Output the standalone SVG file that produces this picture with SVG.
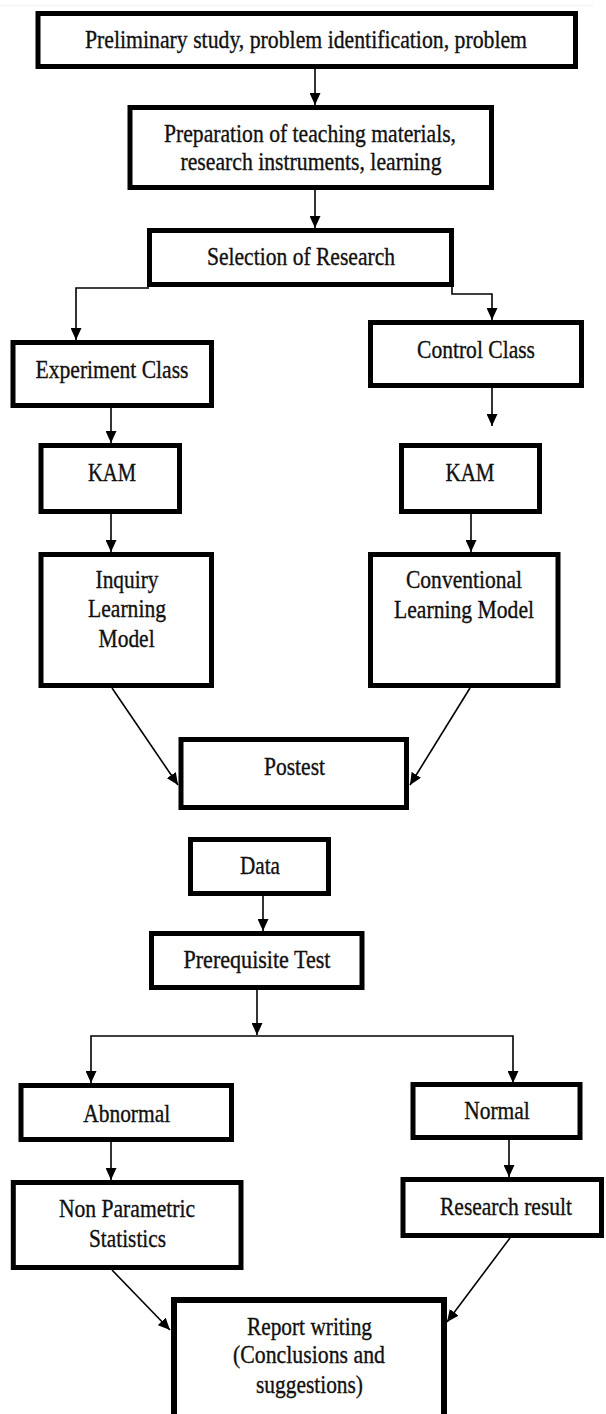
<svg xmlns="http://www.w3.org/2000/svg" width="606" height="1414" viewBox="0 0 606 1414">
<style>
.box{fill:#fff;stroke:#000;stroke-width:5}
.t{font-family:"Liberation Serif","Times New Roman",serif;font-size:25px;fill:#111;stroke:#111;stroke-width:0.35;text-anchor:middle}
.ca{fill:none;stroke:#000;stroke-width:1.6;marker-end:url(#ah)}
</style>
<defs>
<marker id="ah" viewBox="0 0 12 11" refX="12" refY="5.5" markerWidth="12" markerHeight="11" markerUnits="userSpaceOnUse" orient="auto">
<path d="M0,0 L12,5.5 L0,11 z" fill="#000"/>
</marker>
</defs>
<rect width="606" height="1414" fill="#fff"/>
<line x1="0" y1="5.5" x2="593" y2="5.5" stroke="#f3f3f3" stroke-width="1.5"/>
<g id="connectors">
<path class="ca" d="M315,69 V105"/>
<path class="ca" d="M315,190 V228"/>
<path class="ca" d="M149,288 H76 V340"/>
<path class="ca" d="M452,287 V294 H492 V320"/>
<path class="ca" d="M111,408 V443"/>
<path class="ca" d="M492,388 V426"/>
<path class="ca" d="M111,514 V552"/>
<path class="ca" d="M471,514 V552"/>
<path class="ca" d="M112,688 L178,785"/>
<path class="ca" d="M470,688 L410,785"/>
<path class="ca" d="M263,896 V931"/>
<path class="ca" d="M257,990 V1035"/>
<path class="ca" d="M257,1036 H91 V1083"/>
<path class="ca" d="M257,1036 H513 V1083"/>
<path class="ca" d="M111,1142 V1180"/>
<path class="ca" d="M509,1140 V1177"/>
<path class="ca" d="M112,1270 L170,1330"/>
<path class="ca" d="M510,1238 L447,1322"/>
</g>
<g id="n1"><rect class="box" x="38" y="13.5" width="537.5" height="53"/><text class="t" x="306" y="48" textLength="442" lengthAdjust="spacingAndGlyphs">Preliminary study, problem identification, problem</text></g>
<g id="n2"><rect class="box" x="130" y="107.5" width="361.5" height="80"/><text class="t" x="310" y="142" textLength="292" lengthAdjust="spacingAndGlyphs">Preparation of teaching materials,</text><text class="t" x="311" y="170" textLength="261" lengthAdjust="spacingAndGlyphs">research instruments, learning</text></g>
<g id="n3"><rect class="box" x="149.5" y="230.5" width="302" height="54"/><text class="t" x="301" y="265" textLength="188" lengthAdjust="spacingAndGlyphs">Selection of Research</text></g>
<g id="n4"><rect class="box" x="13" y="342.5" width="198.5" height="63"/><text class="t" x="112" y="378" textLength="153" lengthAdjust="spacingAndGlyphs">Experiment Class</text></g>
<g id="n5"><rect class="box" x="370.5" y="322.5" width="211" height="63"/><text class="t" x="476" y="358" textLength="118" lengthAdjust="spacingAndGlyphs">Control Class</text></g>
<g id="n6"><rect class="box" x="41" y="445.5" width="138.5" height="66"/><text class="t" x="112" y="481" textLength="48" lengthAdjust="spacingAndGlyphs">KAM</text></g>
<g id="n7"><rect class="box" x="401.5" y="445.5" width="138" height="66"/><text class="t" x="470" y="481" textLength="49" lengthAdjust="spacingAndGlyphs">KAM</text></g>
<g id="n8"><rect class="box" x="41" y="554.5" width="170.5" height="131"/><text class="t" x="127" y="588" textLength="63" lengthAdjust="spacingAndGlyphs">Inquiry</text><text class="t" x="127" y="617" textLength="78" lengthAdjust="spacingAndGlyphs">Learning</text><text class="t" x="126.6" y="647" textLength="56" lengthAdjust="spacingAndGlyphs">Model</text></g>
<g id="n9"><rect class="box" x="370.5" y="554.5" width="187.5" height="131"/><text class="t" x="464" y="588" textLength="116" lengthAdjust="spacingAndGlyphs">Conventional</text><text class="t" x="464" y="618" textLength="140" lengthAdjust="spacingAndGlyphs">Learning Model</text></g>
<g id="n10"><rect class="box" x="181" y="739.5" width="225.5" height="68"/><text class="t" x="294.5" y="775" textLength="61" lengthAdjust="spacingAndGlyphs">Postest</text></g>
<g id="n11"><rect class="box" x="190.5" y="839.5" width="138" height="54"/><text class="t" x="260" y="874" textLength="40" lengthAdjust="spacingAndGlyphs">Data</text></g>
<g id="n12"><rect class="box" x="151.5" y="933.5" width="210.5" height="54"/><text class="t" x="257" y="968" textLength="147" lengthAdjust="spacingAndGlyphs">Prerequisite Test</text></g>
<g id="n13"><rect class="box" x="21" y="1085.5" width="210.5" height="54"/><text class="t" x="126.7" y="1122" textLength="87" lengthAdjust="spacingAndGlyphs">Abnormal</text></g>
<g id="n14"><rect class="box" x="413" y="1084.5" width="167" height="53"/><text class="t" x="497" y="1119" textLength="65.6" lengthAdjust="spacingAndGlyphs">Normal</text></g>
<g id="n15"><rect class="box" x="13.3" y="1182.5" width="227.7" height="85"/><text class="t" x="127" y="1217" textLength="136" lengthAdjust="spacingAndGlyphs">Non Parametric</text><text class="t" x="127.5" y="1247" textLength="77" lengthAdjust="spacingAndGlyphs">Statistics</text></g>
<g id="n16"><rect class="box" x="403" y="1179.5" width="198.5" height="56"/><text class="t" x="506" y="1215" textLength="132" lengthAdjust="spacingAndGlyphs">Research result</text></g>
<g id="n17"><rect class="box" x="174" y="1300" width="270" height="130" style="stroke-width:6"/><text class="t" x="309.5" y="1335" textLength="125" lengthAdjust="spacingAndGlyphs">Report writing</text><text class="t" x="309" y="1363" textLength="152" lengthAdjust="spacingAndGlyphs">(Conclusions and</text><text class="t" x="309.5" y="1393" textLength="107" lengthAdjust="spacingAndGlyphs">suggestions)</text></g>
</svg>
